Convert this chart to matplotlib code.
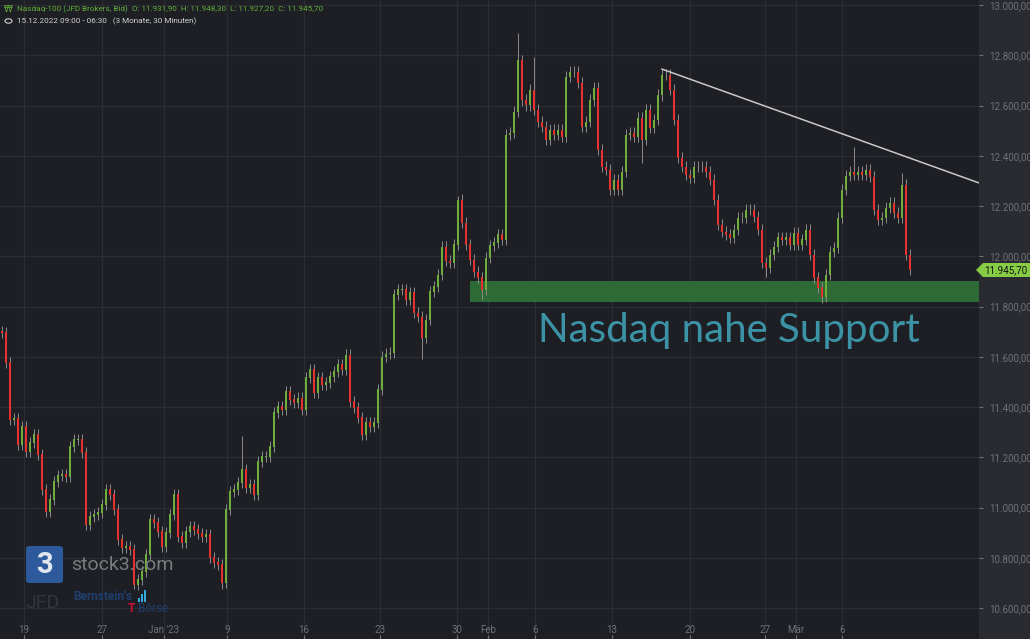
import numpy as np
import matplotlib.pyplot as plt
from matplotlib.patches import Polygon, FancyBboxPatch, Rectangle
from matplotlib.ticker import FuncFormatter

closes = [
    11696, 11577, 11350, 11354, 11250, 11322, 11223, 11259, 11290, 11211,
    11072, 10984, 11032, 11103, 11127, 11131, 11123, 11243, 11270, 11270,
    11219, 10933, 10964, 10972, 10980, 11012, 11072, 11052, 10992, 10873,
    10841, 10845, 10833, 10694, 10714, 10746, 10813, 10952, 10940, 10905,
    10845, 10901, 10972, 11052, 10885, 10861, 10905, 10925, 10913, 10897,
    10885, 10893, 10801, 10781, 10774, 10702, 10992, 11064, 11072, 11099,
    11151, 11080, 11092, 11052, 11183, 11203, 11203, 11243, 11378, 11402,
    11390, 11461, 11430, 11418, 11437, 11390, 11517, 11549, 11457, 11517,
    11489, 11497, 11521, 11541, 11569, 11549, 11608, 11422, 11398, 11358,
    11290, 11338, 11322, 11338, 11469, 11600, 11612, 11616, 11847, 11867,
    11867, 11827, 11855, 11775, 11759, 11676, 11747, 11859, 11879, 11926,
    12038, 11982, 11974, 12046, 12225, 12133, 12046, 11986, 11938, 11915,
    11867, 11994, 12042, 12054, 12086, 12066, 12483, 12491, 12575, 12781,
    12622, 12602, 12662, 12583, 12535, 12515, 12463, 12503, 12483, 12503,
    12475, 12714, 12734, 12734, 12690, 12515, 12535, 12622, 12670, 12424,
    12356, 12344, 12264, 12304, 12264, 12336, 12483, 12491, 12475, 12551,
    12463, 12583, 12511, 12543, 12642, 12722, 12722, 12662, 12543, 12392,
    12356, 12324, 12312, 12356, 12356, 12356, 12336, 12304, 12225, 12125,
    12097, 12086, 12074, 12105, 12153, 12153, 12185, 12185, 12157, 12105,
    11974, 11954, 12006, 12038, 12074, 12066, 12074, 12046, 12093, 12046,
    12066, 12105, 12006, 11915, 11875, 11839, 11926, 12018, 12034, 12153,
    12264, 12320, 12336, 12324, 12336, 12324, 12344, 12316, 12185, 12145,
    12153, 12193, 12213, 12173, 12153, 12284, 12006, 11946,
]
first_open = 11700
# markante Dochte (Kerzenindex: Kurs)
high_spikes = {129: 12889, 133: 12793, 60: 11285, 213: 12435, 225: 12332, 165: 12745, 114: 12240}
low_spikes = {120: 11827, 105: 11590, 205: 11815, 191: 11919, 33: 10674, 55: 10674, 160: 12370}

support_low, support_high = 11820, 11903
trend_start, trend_end = 12745, 12292

xtick_pos = [5.5, 25, 40.5, 56.25, 75.5, 94.5, 113.75, 121.5, 133.25, 152.5, 172, 190.75, 198.5, 210]
xtick_lab = ['19', '27', "Jan '23", '9', '16', '23', '30', 'Feb', '6', '13', '20', '27', 'Mär', '6']
yticks = np.arange(10600, 13001, 200)

bg = '#1d1f24'
panel = '#2a2b30'
grid = '#2b2d33'
txt = '#707176'
up = '#6fae3c'
down = '#e5322d'
wick = '#8c8c8c'
font = ['Roboto', 'DejaVu Sans']

def de(v, pos=None):
    return f'{v:,.2f}'.replace(',', 'X').replace('.', ',').replace('X', '.')

opens = [first_open] + closes[:-1]
n = len(closes)
x = np.arange(n)
highs = [max(o, c) + 22 for o, c in zip(opens, closes)]
lows = [min(o, c) - 22 for o, c in zip(opens, closes)]
for i, v in high_spikes.items():
    highs[i] = v
for i, v in low_spikes.items():
    lows[i] = v

plt.rcParams['font.family'] = font

fig = plt.figure(figsize=(10.30, 6.39), dpi=100, facecolor=panel)
ax = fig.add_axes([0, 0, 979 / 1030, 1])
ax.set_facecolor(bg)

ax.set_xlim(-0.5, 244.25)
ax.set_ylim(10477, 13020)

ax.set_yticks(yticks)
ax.yaxis.set_major_formatter(FuncFormatter(de))
ax.yaxis.tick_right()
ax.tick_params(axis='y', colors=txt, labelsize=7, length=3, width=0.8, pad=4)
ax.set_xticks(xtick_pos)
ax.set_xticklabels(xtick_lab)
ax.tick_params(axis='x', colors=txt, labelsize=7, length=3, width=0.8,
               direction='in', pad=-10)
for lab in ax.get_yticklabels() + ax.get_xticklabels():
    lab.set_color(txt)
ax.grid(True, color=grid, linewidth=0.9)
ax.set_axisbelow(True)
for s in ax.spines.values():
    s.set_visible(False)

# Unterstützungszone
ax.add_patch(Rectangle((116.9, support_low), 244.25 - 116.9, support_high - support_low,
                       facecolor='#2d6a35', edgecolor='none', zorder=2))

# Kerzen
cols = [up if c >= o else down for o, c in zip(opens, closes)]
ax.vlines(x, lows, highs, color=wick, linewidth=0.7, zorder=3)
ax.bar(x, np.abs(np.array(closes) - np.array(opens)) + 2,
       bottom=np.minimum(opens, closes) - 1, width=0.5, color=cols,
       edgecolor='none', zorder=4)

# Trendlinie
ax.plot([165, 244.25], [trend_start, trend_end], color='#c9c9c9', linewidth=1.1, zorder=5)

ax.text(134, 11660, 'Nasdaq nahe Support', color='#3c93a6', fontsize=29,
        family='Lato', va='baseline', ha='left', zorder=6)

# Kopfzeile
fig.text(17 / 1030, 1 - 9 / 639,
         'Nasdaq-100 (JFD Brokers, Bid)  O: 11.931,90  H: 11.948,30  L: 11.927,20  C: 11.945,70',
         color='#63ad3a', fontsize=5.9, va='center', ha='left')
fig.text(17 / 1030, 1 - 21 / 639, '15.12.2022 09:00 - 06:30   (3 Monate, 30 Minuten)',
         color='#d0d0d0', fontsize=5.9, va='center', ha='left')
fig.text(4 / 1030, 1 - 9 / 639, '₩', color='#63ad3a', fontsize=6.5, va='center', ha='left',
         family='DejaVu Sans')
fig.patches.append(plt.Circle((8.5 / 1030, 1 - 21 / 639), 3.5 / 1030, transform=fig.transFigure,
                              fill=False, edgecolor='#d0d0d0', linewidth=0.8))

# Kursmarke rechts
W, H = 1030, 639
pts = [(976, 270), (983, 263), (1030, 263), (1030, 277), (983, 277)]
fig.patches.append(Polygon([(px / W, 1 - py / H) for px, py in pts], closed=True,
                           transform=fig.transFigure, facecolor='#86cc45', edgecolor='none'))
fig.text(1006 / W, 1 - 270 / H, '11.945,70', color='#111111', fontsize=7,
         ha='center', va='center')

# Logos
fig.patches.append(FancyBboxPatch((26 / W, 1 - 583 / H), 37 / W, 37 / H,
                                  boxstyle='round,pad=0,rounding_size=0.004',
                                  transform=fig.transFigure, facecolor='#2d5a9c',
                                  edgecolor='none'))
fig.text(44.5 / W, 1 - 565 / H, '3', color='#dfe6f0', fontsize=21, fontweight='bold',
         ha='center', va='center')
fig.text(71 / W, 1 - 565 / H, 'stock3.com', color='#7a7b7f', fontsize=14,
         ha='left', va='center')
fig.text(25 / W, 1 - 603 / H, 'JFD', color='#33363b', fontsize=14, ha='left', va='center')
fig.text(73 / W, 1 - 597 / H, "Bernstein's", color='#1e3f70', fontsize=8.5,
         fontweight='bold', ha='left', va='center')
fig.text(138 / W, 1 - 609 / H, 'Börse', color='#1e3f70', fontsize=8.5,
         ha='left', va='center')
fig.text(128 / W, 1 - 609 / H, 'T', color='#d0103a', fontsize=8.5, fontweight='bold',
         ha='left', va='center')
for k, hgt in enumerate([4, 8, 12]):
    fig.patches.append(Rectangle(((138 + 3 * k) / W, 1 - 602 / H), 2 / W, hgt / H,
                                 transform=fig.transFigure, facecolor='#36a9e0',
                                 edgecolor='none'))

fig.savefig('out.png', dpi=100, facecolor=panel)
